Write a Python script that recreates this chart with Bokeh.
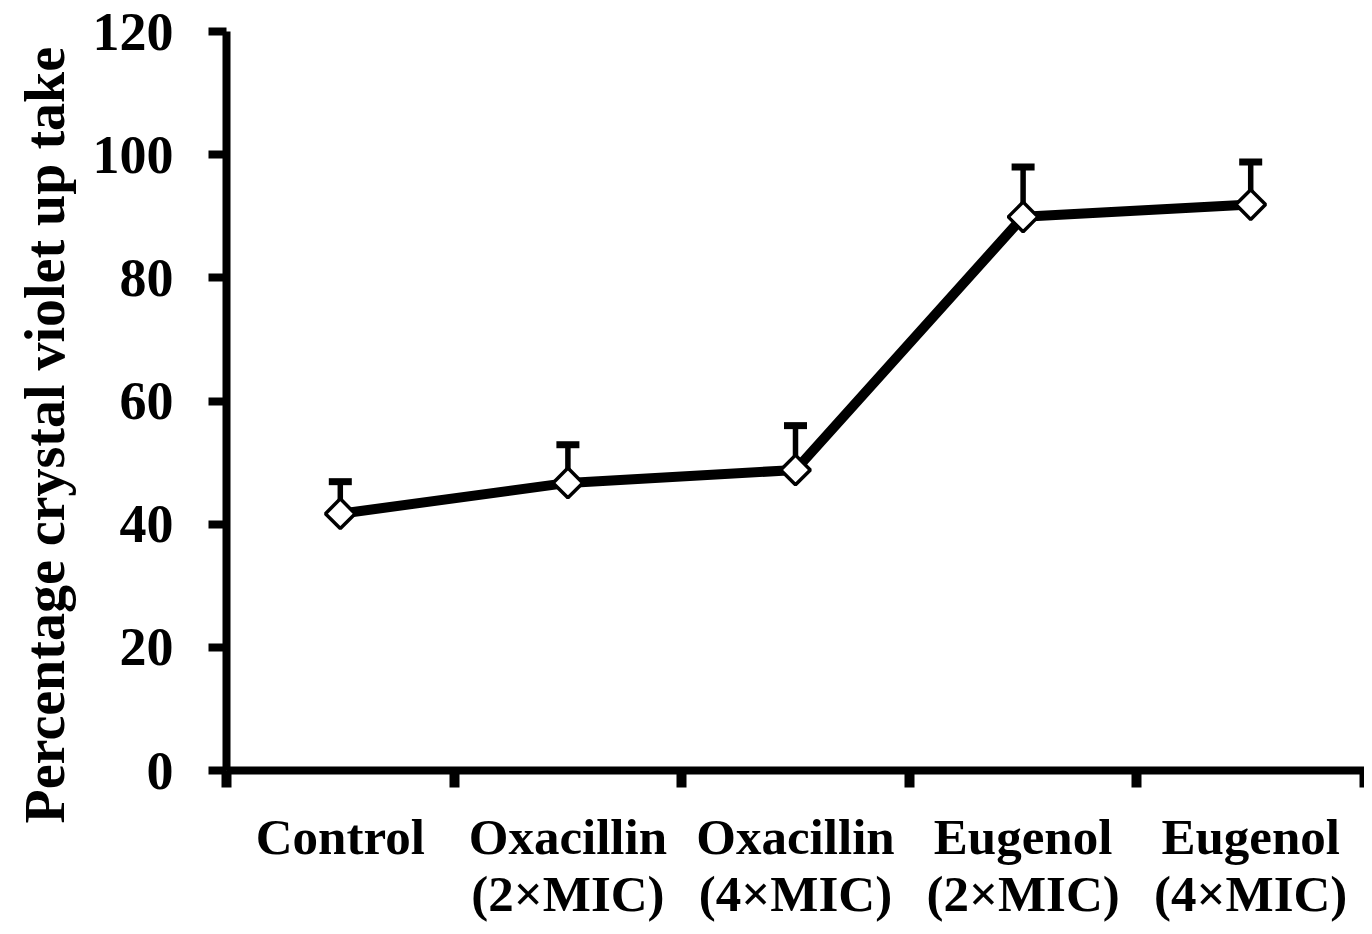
import math
from bokeh.plotting import figure
from bokeh.models import FixedTicker, ColumnDataSource, Range1d, Title
from bokeh.embed import file_html
from bokeh.resources import INLINE

categories = ["Control", "Oxacillin\n(2×MIC)", "Oxacillin\n(4×MIC)", "Eugenol\n(2×MIC)", "Eugenol\n(4×MIC)"]
means = [41.7, 46.7, 48.8, 89.9, 91.9]
errors = [5.2, 6.2, 7.2, 8.1, 6.9]
y_ticks = [0, 20, 40, 60, 80, 100, 120]
y_title = "Percentage crystal violet up take"

xs = list(range(1, len(categories) + 1))
uppers = [m + e for m, e in zip(means, errors)]
src = ColumnDataSource(dict(x=xs, y=means, up=uppers))

FONT = "Liberation Serif"

p = figure(width=1364, height=926, output_backend="svg", toolbar_location=None,
           x_range=Range1d(0.5, len(categories) + 0.5), y_range=Range1d(0, 120),
           min_border_left=226, min_border_right=0, min_border_top=31, min_border_bottom=156)
p.outline_line_color = None
p.xgrid.visible = False
p.ygrid.visible = False
p.background_fill_color = "white"
p.border_fill_color = "white"

# error bars (upper only)
p.segment(x0="x", y0="y", x1="x", y1="up", source=src, line_color="black", line_width=5.5)
p.scatter(x="x", y="up", source=src, marker="dash", size=23, line_color="black", line_width=7)
# line
p.line(x="x", y="y", source=src, line_color="black", line_width=10)
# markers
p.scatter(x="x", y="y", source=src, marker="square", angle=math.pi / 4, size=21,
          fill_color="white", line_color="black", line_width=3.5)

# y axis
yax = p.yaxis[0]
yax.ticker = FixedTicker(ticks=y_ticks)
yax.axis_line_width = 8
yax.major_tick_line_width = 8
yax.major_tick_out = 18
yax.major_tick_in = 0
yax.minor_tick_line_color = None
yax.major_label_text_font = FONT
yax.major_label_text_font_style = "bold"
yax.major_label_text_font_size = "54px"
yax.major_label_text_color = "black"
yax.major_label_standoff = 35

# y title in the left margin, starting a little below the frame's bottom
ytitle = Title(text=y_title, align="left", offset=-53, vertical_align="top", standoff=24,
               text_font=FONT, text_font_style="bold", text_font_size="56px",
               text_color="black")
p.add_layout(ytitle, "left")

# x axis
xax = p.xaxis[0]
xax.ticker = FixedTicker(ticks=xs, minor_ticks=[i + 0.5 for i in range(0, len(categories) + 1)])
xax.major_label_overrides = {x: c for x, c in zip(xs, categories)}
xax.axis_line_width = 8
xax.major_tick_out = 0
xax.major_tick_in = 0
xax.major_tick_line_color = None
xax.minor_tick_out = 17
xax.minor_tick_in = 0
xax.minor_tick_line_width = 10
xax.minor_tick_line_color = "black"
xax.major_label_text_font = FONT
xax.major_label_text_font_style = "bold"
xax.major_label_text_font_size = "51px"
xax.major_label_text_line_height = 1.03
xax.major_label_text_color = "black"
xax.major_label_standoff = 21

open("out.html", "w").write(file_html(p, INLINE))
